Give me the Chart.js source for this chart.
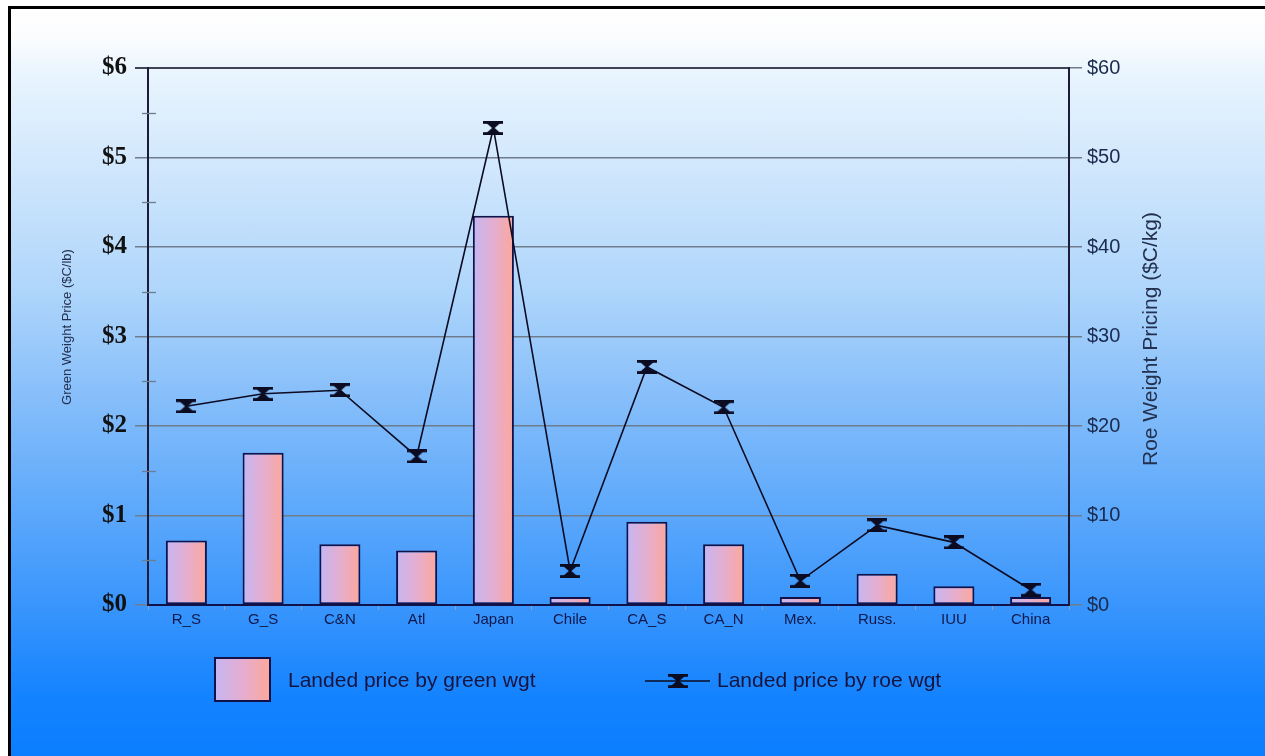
<!DOCTYPE html>
<html>
<head>
<meta charset="utf-8">
<script src="https://cdn.jsdelivr.net/npm/chart.js@4/dist/chart.umd.min.js"></script>
<style>
  html, body { margin: 0; padding: 0; background: #ffffff; overflow: hidden; }
  #frame {
    position: absolute; left: 8px; top: 6px;
    width: 1254px; height: 747px;
    border-left: 3px solid #000; border-top: 3px solid #000;
    background: linear-gradient(to bottom,
      #ffffff 0%, #fbfcfe 4%, #e8f4fe 9%, #cfe6fc 22%, #aed5fb 38%,
      #86befa 52%, #5aa7fb 68%, #3392fd 82%, #1483ff 92%, #0a7eff 100%);
  }
  #wrap { position: absolute; left: 0; top: 0; width: 1254px; height: 747px; }
</style>
</head>
<body>
<div id="frame"><div id="wrap"><canvas id="c"></canvas></div></div>
<script>
// Sources of landed product
const categories = ['R_S', 'G_S', 'C&N', 'Atl', 'Japan', 'Chile', 'CA_S', 'CA_N', 'Mex.', 'Russ.', 'IUU', 'China'];
// Landed price by green weight ($C/lb)
const greenPrice = [0.72, 1.70, 0.68, 0.61, 4.35, 0.09, 0.93, 0.68, 0.09, 0.35, 0.21, 0.09];
// Landed price by roe weight ($C/kg)
const roePrice = [22.2, 23.6, 24.0, 16.6, 53.3, 3.8, 26.6, 22.1, 2.7, 8.9, 7.0, 1.7];
// Axis ranges and tick steps
const greenTicks = [0, 1, 2, 3, 4, 5, 6];
const roeTicks = [0, 10, 20, 30, 40, 50, 60];
const greenName = 'Landed price by green wgt';
const roeName = 'Landed price by roe wgt';
const greenTitle = 'Green Weight Price ($C/lb)';
const roeTitle = 'Roe Weight Pricing ($C/kg)';

const NAVY = '#12124a';
const GRID = '#6f7c8c';
const BAR_PCT = 0.535;
const SANS = '"Liberation Sans", Arial, sans-serif';

// Hourglass marker used on the roe-weight line
function makeMarker() {
  const w = 20, h = 14;
  const cv = document.createElement('canvas');
  cv.width = w; cv.height = h;
  const g = cv.getContext('2d');
  g.fillStyle = '#0b0b22';
  g.fillRect(0, 0, w, 2.8);
  g.fillRect(0, h - 2.8, w, 2.8);
  g.beginPath();
  g.moveTo(3, 2); g.lineTo(w - 3, 2); g.lineTo(w / 2 + 1.3, h / 2); g.lineTo(w - 3, h - 2);
  g.lineTo(3, h - 2); g.lineTo(w / 2 - 1.3, h / 2); g.closePath();
  g.fill();
  return cv;
}
const marker = makeMarker();

function barGradient(ctx2d, x0, x1) {
  const gr = ctx2d.createLinearGradient(x0, 0, x1, 0);
  gr.addColorStop(0, '#c6b6f2');
  gr.addColorStop(0.5, '#e4aed0');
  gr.addColorStop(1, '#fda79a');
  return gr;
}

// Minor half-step ticks on the left axis, axis titles and the legend
const decor = {
  id: 'decor',
  afterDatasetsDraw(chart) {
    const ctx = chart.ctx;
    const y = chart.scales.y;
    const area = chart.chartArea;
    ctx.save();
    ctx.strokeStyle = GRID;
    ctx.lineWidth = 1.3;
    for (let i = 0; i < greenTicks.length - 1; i++) {
      const v = (greenTicks[i] + greenTicks[i + 1]) / 2;
      const py = Math.round(y.getPixelForValue(v)) + 0.5;
      ctx.beginPath();
      ctx.moveTo(area.left - 6, py);
      ctx.lineTo(area.left + 8, py);
      ctx.stroke();
    }

    // Axis titles
    ctx.fillStyle = '#23304e';
    ctx.textAlign = 'center';
    ctx.textBaseline = 'middle';
    ctx.save();
    ctx.font = '13px ' + SANS;
    ctx.translate(56, 318);
    ctx.rotate(-Math.PI / 2);
    ctx.fillText(greenTitle, 0, 0);
    ctx.restore();
    ctx.save();
    ctx.font = '21px ' + SANS;
    ctx.translate(1140, 330);
    ctx.rotate(-Math.PI / 2);
    ctx.fillText(roeTitle, 0, 0);
    ctx.restore();

    // Legend
    const bar = chart.data.datasets.find(d => d.type === 'bar');
    const line = chart.data.datasets.find(d => d.type === 'line');
    const ly = 672;
    const bx0 = 204, bx1 = 259;
    ctx.fillStyle = barGradient(ctx, bx0, bx1);
    ctx.fillRect(bx0, 649, bx1 - bx0, 43);
    ctx.strokeStyle = NAVY;
    ctx.lineWidth = 2;
    ctx.strokeRect(bx0, 649, bx1 - bx0, 43);
    ctx.fillStyle = '#14143e';
    ctx.font = '21px ' + SANS;
    ctx.textAlign = 'left';
    ctx.fillText(bar.label, 277, ly);
    ctx.strokeStyle = '#0b0b22';
    ctx.lineWidth = 1.6;
    ctx.beginPath();
    ctx.moveTo(634, ly); ctx.lineTo(699, ly);
    ctx.stroke();
    ctx.drawImage(marker, 667 - marker.width / 2, ly - marker.height / 2);
    ctx.fillText(line.label, 706, ly);
    ctx.restore();
  }
};

new Chart(document.getElementById('c'), {
  data: {
    labels: categories,
    datasets: [
      {
        type: 'line',
        label: roeName,
        data: roePrice,
        yAxisID: 'y1',
        borderColor: '#0b0b22',
        borderWidth: 1.6,
        tension: 0,
        pointStyle: marker,
        pointRadius: 9,
        order: 0
      },
      {
        type: 'bar',
        label: greenName,
        data: greenPrice,
        yAxisID: 'y',
        borderColor: NAVY,
        borderWidth: 2,
        borderSkipped: false,
        categoryPercentage: 1,
        barPercentage: BAR_PCT,
        backgroundColor(ctx) {
          const chart = ctx.chart;
          if (!chart.chartArea || ctx.type !== 'data') return '#e0aed4';
          const xs = chart.scales.x;
          const cx = xs.getPixelForValue(ctx.dataIndex);
          const half = (xs.width / categories.length) * BAR_PCT / 2;
          return barGradient(chart.ctx, cx - half, cx + half);
        },
        order: 1
      }
    ]
  },
  plugins: [decor],
  options: {
    responsive: true,
    maintainAspectRatio: false,
    animation: false,
    layout: { padding: { top: 59, left: 0, right: 0, bottom: 0 } },
    plugins: {
      legend: { display: false },
      tooltip: { enabled: false },
      title: { display: false }
    },
    scales: {
      x: {
        offset: true,
        grid: {
          offset: true,
          drawOnChartArea: false,
          color: '#8aa4c4',
          tickLength: 5,
          lineWidth: 1
        },
        border: { color: NAVY, width: 2 },
        ticks: {
          color: '#10184a',
          font: { family: SANS, size: 15 },
          padding: 1,
          maxRotation: 0,
          autoSkip: false
        },
        afterFit(s) { s.height = 151; }
      },
      y: {
        position: 'left',
        min: greenTicks[0],
        max: greenTicks[greenTicks.length - 1],
        afterBuildTicks(s) { s.ticks = greenTicks.map(v => ({ value: v })); },
        grid: {
          color(c) { return c.tick && c.tick.value === 6 ? '#3e4656' : GRID; },
          lineWidth(c) { return c.tick && c.tick.value === 6 ? 2 : 1.5; },
          tickLength: 13
        },
        border: { color: '#1c1c3a', width: 2 },
        ticks: {
          color: '#111111',
          font: { family: '"Liberation Serif", "Times New Roman", serif', size: 25, weight: 'bold' },
          padding: 8,
          callback(v) { return '$' + v; }
        },
        afterFit(s) { s.width = 137; }
      },
      y1: {
        position: 'right',
        min: roeTicks[0],
        max: roeTicks[roeTicks.length - 1],
        afterBuildTicks(s) { s.ticks = roeTicks.map(v => ({ value: v })); },
        grid: {
          drawOnChartArea: false,
          color: GRID,
          lineWidth: 1.5,
          tickLength: 13
        },
        border: { color: '#1c1c3a', width: 2 },
        ticks: {
          color: '#1a2a4e',
          font: { family: SANS, size: 20 },
          padding: 5,
          callback(v) { return '$' + v; }
        },
        afterFit(s) { s.width = 196; }
      }
    }
  }
});
</script>
</body>
</html>
